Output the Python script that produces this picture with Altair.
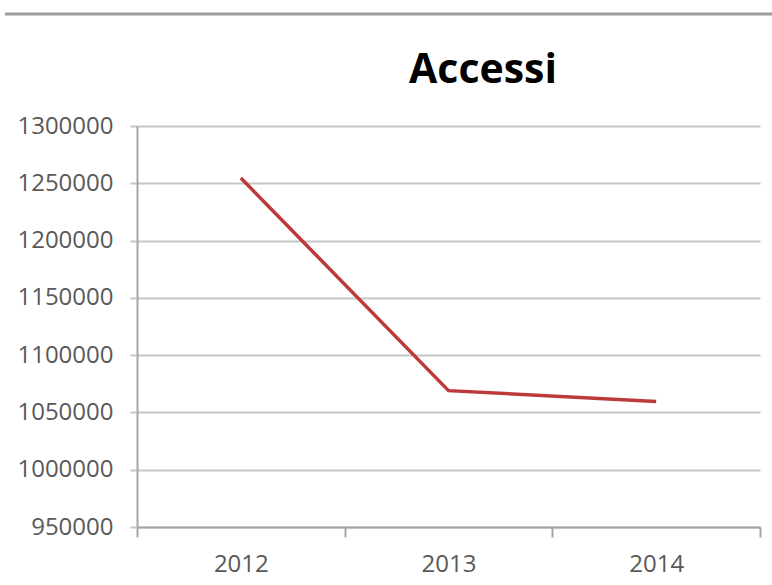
import altair as alt
import pandas as pd

# Annual access counts
years = ["2012", "2013", "2014"]
accessi = [1254600, 1069000, 1059600]
y_ticks = [950000, 1000000, 1050000, 1100000, 1150000, 1200000, 1250000, 1300000]
chart_title = ["Accessi"]

df = pd.DataFrame({"anno": years, "accessi": accessi})

AXIS_GRAY = "#A6A6A6"
GRID_GRAY = "#C6C6C6"
LABEL_GRAY = "#595959"
FONT = "Open Sans"

x_enc = alt.X(
    "anno:O",
    bandPosition=0.5,
    scale=alt.Scale(type="band", paddingInner=0, paddingOuter=0),
    axis=alt.Axis(
        title=None,
        labelAngle=0,
        tickBand="extent",
        grid=False,
        domainColor=AXIS_GRAY,
        domainWidth=2,
        tickColor=AXIS_GRAY,
        tickWidth=2,
        tickSize=10,
        labelPadding=27,
        labelBaseline="middle",
        labelFont=FONT,
        labelFontSize=24,
        labelColor=LABEL_GRAY,
    ),
)

y_enc = alt.Y(
    "accessi:Q",
    scale=alt.Scale(domain=[950000, 1300000], nice=False, zero=False),
    axis=alt.Axis(
        title=None,
        values=y_ticks,
        format="d",
        grid=True,
        gridColor=GRID_GRAY,
        gridWidth=2,
        domainColor=AXIS_GRAY,
        domainWidth=2,
        tickColor=GRID_GRAY,
        tickWidth=2,
        tickSize=7,
        labelPadding=17,
        labelFont=FONT,
        labelFontSize=24,
        labelColor=LABEL_GRAY,
    ),
)

line = alt.Chart(df).mark_line(color="#BE3A3A", strokeWidth=3.5).encode(x=x_enc, y=y_enc)

# Thin gray border along the top of the frame
top_rule = alt.Chart(alt.Data(values=[{}])).mark_rule(color="#9C9C9C", strokeWidth=3).encode(
    x=alt.value(-132), x2=alt.value(640), y=alt.value(-112)
)

title = alt.Chart(alt.Data(values=[{"t": t} for t in chart_title])).mark_text(
    font=FONT, fontSize=41, fontWeight="bold", color="#000000",
    align="center", baseline="alphabetic",
).encode(text="t:N", x=alt.value(346), y=alt.value(-43))

chart = (
    alt.layer(line, top_rule, title)
    .properties(
        width=623,
        height=401,
        autosize=alt.AutoSizeParams(type="none"),
        padding={"left": 137, "top": 126, "right": 12, "bottom": 58},
        background="white",
    )
    .configure_view(stroke=None)
)

chart.save("out.html", embed_options={"renderer": "svg", "actions": False})
